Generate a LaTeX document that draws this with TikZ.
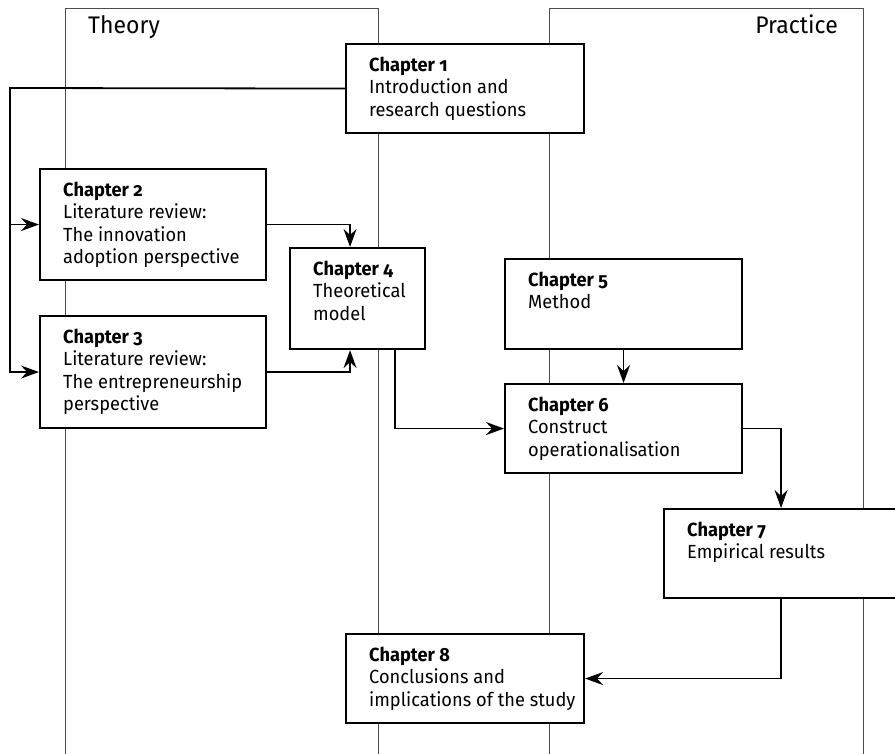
\documentclass[tikz,border=0pt]{standalone}
\usepackage{fontspec}
\setmainfont{Fira Sans}[Numbers=OldStyle, FakeStretch=0.96]
\usetikzlibrary{positioning,arrows.meta}
\tikzset{
  lane/.style={draw=black!70, line width=0.9pt},
  lanelabel/.style={font=\fontsize{24}{27}\selectfont, inner sep=0pt},
  chapbox/.style={draw, fill=white, line width=2.1pt, anchor=north west, inner sep=0pt},
  chaptext/.style={anchor=north west, align=left, inner sep=0pt, font=\fontsize{19}{22.3}\selectfont},
  flowarrow/.style={-{Stealth[length=18pt, width=13pt, inset=6pt]}, line width=1.8pt}
}
\begin{document}
\begin{tikzpicture}[x=1pt, y=-1pt]
  \clip (0,0) rectangle (895,754);
  % theory and practice lanes
  \draw[lane] (65,760) -- (65,8) -- (378,8) -- (378,760);
  \draw[lane] (549,760) -- (549,8) -- (863,8) -- (863,760);
  \node[lanelabel, anchor=base west] (theory) at (88,34) {Theory};
  \node[lanelabel, anchor=base east] (practice) at (838,34) {Practice};
  % chapter boxes
  \node[chapbox, minimum width=238pt, minimum height=89pt] (c1) at (345,43) {};
  \node[chapbox, minimum width=226pt, minimum height=111pt] (c2) at (39,168) {};
  \node[chapbox, minimum width=226pt, minimum height=112pt] (c3) at (39,315) {};
  \node[chapbox, minimum width=135pt, minimum height=101pt] (c4) at (289,247) {};
  \node[chapbox, minimum width=237pt, minimum height=90pt] (c5) at (504,258) {};
  \node[chapbox, minimum width=237pt, minimum height=89pt] (c6) at (504,383) {};
  \node[chapbox, minimum width=234pt, minimum height=89pt] (c7) at (663,508) {};
  \node[chapbox, minimum width=238pt, minimum height=89pt] (c8) at (345,633) {};
  % chapter texts
  \node[chaptext] (c1t) at ([shift={(24pt,-14pt)}]c1.north west) {\textbf{Chapter 1}\\Introduction and\\research questions};
  \node[chaptext] (c2t) at ([shift={(24pt,-14pt)}]c2.north west) {\textbf{Chapter 2}\\Literature review:\\The innovation\\adoption perspective};
  \node[chaptext] (c3t) at ([shift={(24pt,-14pt)}]c3.north west) {\textbf{Chapter 3}\\Literature review:\\The entrepreneurship\\perspective};
  \node[chaptext] (c4t) at ([shift={(24pt,-14pt)}]c4.north west) {\textbf{Chapter 4}\\Theoretical\\model};
  \node[chaptext] (c5t) at ([shift={(24pt,-14pt)}]c5.north west) {\textbf{Chapter 5}\\Method};
  \node[chaptext] (c6t) at ([shift={(24pt,-14pt)}]c6.north west) {\textbf{Chapter 6}\\Construct\\operationalisation};
  \node[chaptext] (c7t) at ([shift={(24pt,-14pt)}]c7.north west) {\textbf{Chapter 7}\\Empirical results};
  \node[chaptext] (c8t) at ([shift={(24pt,-14pt)}]c8.north west) {\textbf{Chapter 8}\\Conclusions and\\implications of the study};
  % connectors
  \coordinate (spine) at (10,88);
  \draw[flowarrow] (c1.west) -- (spine) |- (c3.west);
  \draw[flowarrow] (spine |- c2.west) -- (c2.west);
  \draw[flowarrow] (c2.east) -| ([xshift=-7.5pt]c4.north);
  \draw[flowarrow] (c3.east) -| ([xshift=-7.5pt]c4.south);
  \draw[flowarrow] ([xshift=37.5pt]c4.south) |- (c6.west);
  \draw[flowarrow] (c5.south) -- (c6.north);
  \draw[flowarrow] (c6.east) -| (c7.north);
  \draw[flowarrow] (c7.south) |- (c8.east);
\end{tikzpicture}
\end{document}
